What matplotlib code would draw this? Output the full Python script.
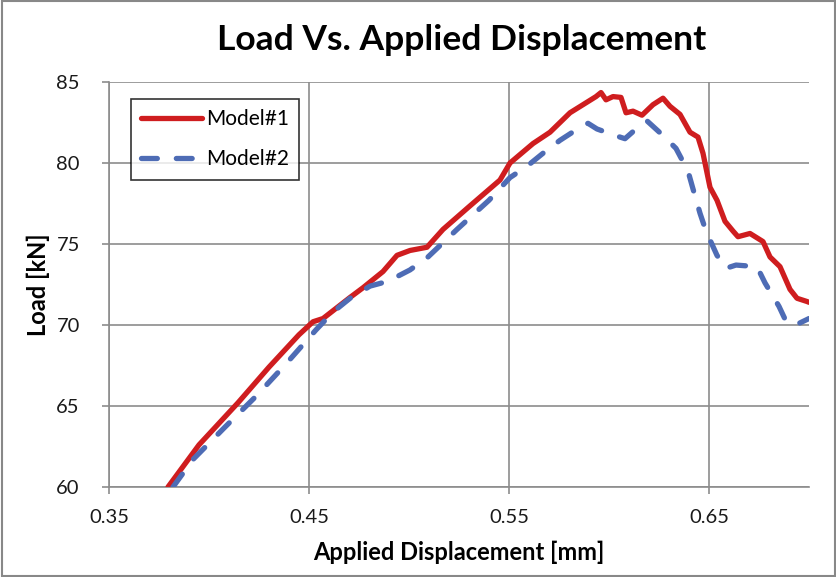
import matplotlib
matplotlib.use("Agg")
import matplotlib.pyplot as plt
from matplotlib.patches import Rectangle

plt.rcParams['font.family'] = ['Lato', 'DejaVu Sans']

# Model#1 (red, solid)
x1 = [0.3795, 0.3950, 0.4145, 0.4300, 0.4450, 0.4520, 0.4570, 0.4705, 0.4770, 0.4870, 0.4940,
      0.5005, 0.5090, 0.5170, 0.5300, 0.5455, 0.5505, 0.5620, 0.5705, 0.5805, 0.5870, 0.5935,
      0.5960, 0.5985, 0.6020, 0.6060, 0.6085, 0.6120, 0.6165, 0.6220, 0.6270, 0.6305, 0.6355,
      0.6405, 0.6445, 0.6470, 0.6505, 0.6540, 0.6580, 0.6620, 0.6645, 0.6705, 0.6770, 0.6805,
      0.6855, 0.6905, 0.6940, 0.6990, 0.7000]
y1 = [60.0, 62.6, 65.2, 67.4, 69.4, 70.2, 70.4, 71.7, 72.3, 73.3, 74.3,
      74.6, 74.8, 75.9, 77.3, 78.95, 80.0, 81.2, 81.9, 83.1, 83.6, 84.1,
      84.35, 83.9, 84.1, 84.05, 83.1, 83.2, 82.95, 83.6, 84.0, 83.5, 83.0,
      81.9, 81.6, 80.6, 78.5, 77.7, 76.4, 75.8, 75.45, 75.65, 75.15, 74.2,
      73.6, 72.2, 71.65, 71.45, 71.4]

# Model#2 (blue, dashed)
x2 = [0.3820, 0.3920, 0.4080, 0.4235, 0.4385, 0.4535, 0.4620, 0.4705, 0.4805, 0.4895,
      0.5005, 0.5095, 0.5240, 0.5400, 0.5505, 0.5590, 0.5680, 0.5755, 0.5855, 0.5895,
      0.5940, 0.6030, 0.6080, 0.6135, 0.6190, 0.6270, 0.6335, 0.6395, 0.6420, 0.6455,
      0.6485, 0.6540, 0.6585, 0.6635, 0.6740, 0.6780, 0.6850, 0.6890, 0.6950, 0.7000]
y2 = [60.0, 61.7, 63.7, 65.6, 67.6, 69.7, 70.8, 71.65, 72.4, 72.7,
      73.4, 74.2, 75.9, 77.7, 79.1, 79.8, 80.7, 81.4, 82.2, 82.45,
      82.1, 81.7, 81.5, 82.1, 82.6, 81.7, 80.9, 79.5, 78.4, 76.9,
      75.8, 74.3, 73.5, 73.7, 73.6, 72.6, 71.15, 70.1, 70.1, 70.4]

xticks = [0.35, 0.45, 0.55, 0.65]
xticklabels = ['0.35', '0.45', '0.55', '0.65']
yticks = [60, 65, 70, 75, 80, 85]

fig = plt.figure(figsize=(8.37, 5.77), dpi=100)
ax = fig.add_axes([109/837, 1 - 487/577, 700/837, 405/577])

grid_c = '#8c8c8c'
ax.plot(x1, y1, color='#CF1D1F', lw=3.8, solid_capstyle='round', solid_joinstyle='round',
        label='Model#1', zorder=3)
ax.plot(x2, y2, color='#4E6CB5', lw=3.8, dashes=(3.0, 3.6), dash_capstyle='round',
        dash_joinstyle='round', label='Model#2', zorder=3)

ax.set_xlim(0.35, 0.70)
ax.set_ylim(60, 85)
ax.set_xticks(xticks)
ax.set_xticklabels(xticklabels)
ax.set_yticks(yticks)
ax.grid(True, color=grid_c, lw=1.2)
ax.set_axisbelow(True)
for s in ['top', 'right']:
    ax.spines[s].set_visible(False)
for s in ['left', 'bottom']:
    ax.spines[s].set_color(grid_c)
    ax.spines[s].set_linewidth(1.2)
ax.tick_params(axis='both', direction='out', length=5, width=1.2, color=grid_c,
               labelsize=14.5, labelcolor='#1a1a1a')
ax.tick_params(axis='x', pad=11)
ax.tick_params(axis='y', pad=16)

ax.set_xlabel('Applied Displacement [mm]', fontsize=17, fontweight='bold', va='center')
ax.xaxis.set_label_coords(0.5, (487 - 552) / 405)
ax.set_ylabel('Load [kN]', fontsize=17, fontweight='bold', va='center')
ax.yaxis.set_label_coords((38 - 109) / 700, 0.5)
fig.text(0.552, 1 - 40/577, 'Load Vs. Applied Displacement', ha='center', va='center',
         fontsize=25.5, fontweight='bold')

leg = ax.legend(loc='upper left', bbox_to_anchor=((131 - 109) / 700, (487 - 99) / 405),
                fontsize=15, frameon=True, fancybox=False, edgecolor='black',
                handlelength=2.9, borderpad=0.5, labelspacing=0.95, handletextpad=0.2,
                borderaxespad=0)
leg.get_frame().set_linewidth(1.2)

fig.patches.append(Rectangle((0.002, 0.002), 0.996, 0.996, transform=fig.transFigure,
                             fill=False, edgecolor='#888888', lw=1.5))

fig.savefig('out.png', dpi=100)
